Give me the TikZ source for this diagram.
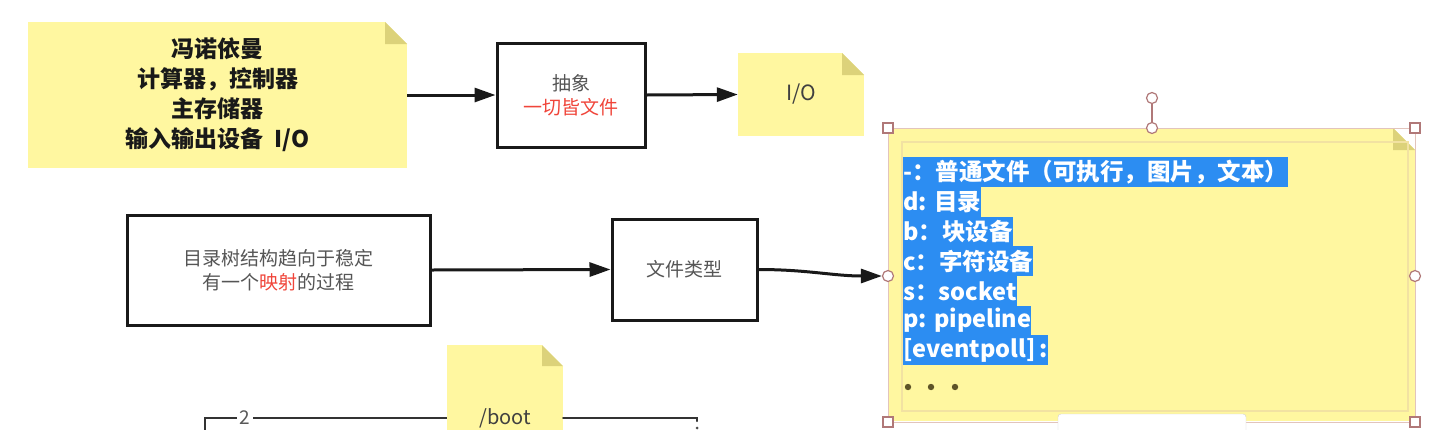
\documentclass[tikz,border=0pt]{standalone}
\usepackage{fontspec}
\setmainfont{Noto Sans CJK SC}
\usetikzlibrary{arrows.meta}
\definecolor{noteY}{HTML}{FFF7A0}
\definecolor{foldY}{HTML}{DCD27A}
\definecolor{hl}{HTML}{2C8DF2}
\definecolor{txtgray}{HTML}{555555}
\definecolor{redtxt}{HTML}{F0453A}
\definecolor{handle}{HTML}{B07878}
\definecolor{selline}{HTML}{E2C4BC}
\definecolor{innerY}{HTML}{F2E2A2}
\definecolor{dotc}{HTML}{5E5428}
\begin{document}
\begin{tikzpicture}[x=1pt,y=-1pt,
  every node/.style={inner sep=0pt},
  box/.style={draw=black!90, line width=3pt, align=center, text=txtgray,
    font=\fontsize{19}{24}\selectfont},
  note/.style={fill=noteY, align=center, path picture={
    \fill[white] ([xshift=-#1]path picture bounding box.north east) -- (path picture bounding box.north east) -- ([yshift=-#1]path picture bounding box.north east) -- cycle;
    \fill[foldY] ([xshift=-#1]path picture bounding box.north east) -- ([xshift=-#1,yshift=-#1]path picture bounding box.north east) -- ([yshift=-#1]path picture bounding box.north east) -- cycle;}},
  note/.default=22pt,
  arr/.style={line width=3pt, draw=black!90, -{Triangle[length=21pt,width=14pt]}},
  hlline/.style={fill=hl, text=white, font=\bfseries\fontsize{23.5}{26}\selectfont,
    anchor=west, minimum height=29.7pt, inner xsep=0pt, inner ysep=0pt},
  handlesq/.style={draw=handle, fill=white, line width=1.2pt, minimum size=10pt},
  handlecirc/.style={circle, draw=handle, fill=white, line width=1.2pt, minimum size=11pt},
  bootline/.style={line width=2.2pt, draw=black!80}]
\useasboundingbox[fill=white] (0,0) rectangle (1451,429);

% top row
\node[note, minimum width=379pt, minimum height=146pt, text=black!90,
  font=\bfseries\fontsize{23}{30}\selectfont] (n1) at (217.5,95)
  {冯诺依曼\\计算器，控制器\\主存储器\\输入输出设备\hspace{0.5em}I/O};
\node[box, minimum width=148pt, minimum height=104pt] (b1) at (571,95)
  {抽象\\\textcolor{redtxt}{一切皆文件}};
\node[note, minimum width=126pt, minimum height=83pt, text=black!75,
  font=\fontsize{21}{24}\selectfont] (io) at (801,94.5) {I/O};
\draw[arr] (n1.east) -- (b1.west);
\draw[arr] (b1.east) -- (io.west);

% second row
\node[box, minimum width=303pt, minimum height=110pt] (b2) at (278.5,270)
  {目录树结构趋向于稳定\\有一个\textcolor{redtxt}{映射}的过程};
\node[box, minimum width=145pt, minimum height=101pt] (b3) at (684.5,269.5) {文件类型};
\draw[arr] (b2.east) -- (b3.west);

% big selected note
\node[note, minimum width=527pt, minimum height=293pt] (big) at (1151.5,274.5) {};
\draw[innerY, line width=1.2pt] (902,142) rectangle (1408,411);
\draw[selline, line width=1pt] (888,128) rectangle (1415,422);
\node[hlline] (l1) at (903,172) {-：普通文件（可执行，图片，文本）\hspace{16pt}};
\node[hlline] (l2) at (903,201.7) {d: 目录\hspace{6pt}};
\node[hlline] (l3) at (903,231.4) {b：块设备\hspace{6pt}};
\node[hlline] (l4) at (903,261.1) {c：字符设备\hspace{6pt}};
\node[hlline] (l5) at (903,290.8) {s：socket\hspace{6pt}};
\node[hlline] (l6) at (903,320.5) {p: pipeline\hspace{6pt}};
\node[hlline] (l7) at (903,350.2) {[eventpoll]\,:\hspace{6pt}};
\fill[dotc] (908,387) circle (3.2pt) (931,387) circle (3.2pt) (955,387) circle (3.2pt);
\node[handlesq] (hTL) at (888,128) {};
\node[handlesq] (hTR) at (1415,128) {};
\node[handlesq] (hBL) at (888,422) {};
\node[handlesq] (hBR) at (1415,422) {};
\node[handlecirc] (hR) at (1415,276) {};
\node[handlecirc] (hL) at (888,276) {};
\node[handlecirc] (hT) at (1152,128) {};
\node[handlecirc] (rot) at (1152,98) {};
\draw[handle, line width=1.6pt] (rot) -- (hT);
\draw[arr] (b3.east) to[out=0,in=180] (hL.west);

% bottom
\node[note=21pt, minimum width=116pt, minimum height=146pt, text=black!75,
  font=\fontsize{20}{24}\selectfont] (boot) at (505,418) {/boot};
\coordinate (c0) at (205,432);
\coordinate (c1) at (205,418);
\coordinate (c2) at (697,418);
\coordinate (c3) at (697,421);
\draw[bootline] (c0) -- (c1) -- node[pos=0.165, fill=white, inner xsep=3pt, text=black!65,
  font=\fontsize{19}{20}\selectfont] (lab2) {2} (boot.west);
\draw[bootline, line cap=round] (boot.east) -- (c2) -- (c3);
\fill[black!70] (697,428) circle (1.5pt);
\draw[black!18, fill=white, rounded corners=3pt] (1058,414) rectangle (1246,445);
\end{tikzpicture}
\end{document}
